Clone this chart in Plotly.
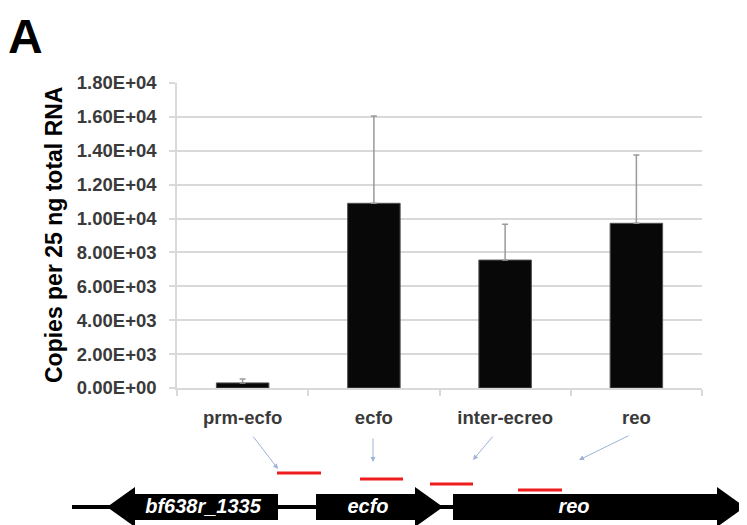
import plotly.graph_objects as go

# ---------------- data ----------------
CATEGORIES = ["prm-ecfo", "ecfo", "inter-ecreo", "reo"]
COPIES = [300, 10900, 7550, 9720]
COPIES_SD = [230, 5150, 2120, 4030]
Y_TICK_VALUES = [0, 2000, 4000, 6000, 8000, 10000, 12000, 14000, 16000, 18000]
Y_TICK_TEXT = ["0.00E+00", "2.00E+03", "4.00E+03", "6.00E+03", "8.00E+03",
               "1.00E+04", "1.20E+04", "1.40E+04", "1.60E+04", "1.80E+04"]
Y_TITLE = "Copies per 25 ng total RNA"
PANEL = "A"

# gene map (map units along the locus)
GENE_NAMES = ["bf638r_1335", "ecfo", "reo"]
GENE_TAIL = [278, 316, 453]
GENE_TIP = [107, 443, 745]
GENE_LABEL_X = [203, 368, 574]
BACKBONE_X = [72, 745]
PRIMER_START = [277, 360, 430, 518]
PRIMER_END = [321, 403, 473, 562]
PRIMER_LEVEL = [473, 479, 484, 490]
POINTER_FROM_X = [252, 373, 494, 630]
POINTER_FROM_Y = [435, 437, 435, 435]
POINTER_TO_X = [278, 373, 473, 579]
POINTER_TO_Y = [469, 462, 460, 460]

# ---------------- style ----------------
OFF = 8                     # page body margin
W, H = 747 - OFF, 525 - OFF
FONT = "Arial, 'Liberation Sans', sans-serif"
GRID = "#d9d9d9"
TICK_COLOR = "#3a3a3a"
GENE_Y = 507
BODY_HALF = 13
HEAD_HALF = 20
HEAD_LEN = 28


def fx(p):
    return (p - OFF) / W


def fy(p):
    return 1 - (p - OFF) / H


fig = go.Figure()

fig.add_trace(go.Bar(
    x=CATEGORIES, y=COPIES,
    marker=dict(color="#080808", line=dict(color="#505050", width=1)),
    error_y=dict(type="data", array=COPIES_SD, symmetric=False,
                 arrayminus=[0] * len(COPIES), color="#9a9a9a",
                 thickness=1.5, width=3),
    xaxis="x", yaxis="y", showlegend=False,
))

# backbone line
fig.add_trace(go.Scatter(
    x=BACKBONE_X, y=[GENE_Y] * len(BACKBONE_X), mode="lines",
    line=dict(color="black", width=4), xaxis="x3", yaxis="y3",
    showlegend=False, hoverinfo="skip",
))

# genes as arrow polygons
for name, tail, tip in zip(GENE_NAMES, GENE_TAIL, GENE_TIP):
    d = 1 if tip > tail else -1
    base = tip - d * HEAD_LEN
    xs = [tail, base, base, tip, base, base, tail, tail]
    ys = [GENE_Y - BODY_HALF, GENE_Y - BODY_HALF, GENE_Y - HEAD_HALF, GENE_Y,
          GENE_Y + HEAD_HALF, GENE_Y + BODY_HALF, GENE_Y + BODY_HALF,
          GENE_Y - BODY_HALF]
    fig.add_trace(go.Scatter(
        x=xs, y=ys, mode="lines", fill="toself", fillcolor="black",
        line=dict(color="black", width=0), xaxis="x3", yaxis="y3",
        showlegend=False, hoverinfo="skip",
    ))

fig.add_trace(go.Scatter(
    x=GENE_LABEL_X, y=[GENE_Y + 1] * len(GENE_NAMES), mode="text",
    text=[f"<i><b>{n}</b></i>" for n in GENE_NAMES],
    textfont=dict(family=FONT, size=20, color="white"),
    xaxis="x3", yaxis="y3", showlegend=False, hoverinfo="skip",
))

# primers
for s, e, lv in zip(PRIMER_START, PRIMER_END, PRIMER_LEVEL):
    fig.add_trace(go.Scatter(
        x=[s, e], y=[lv, lv], mode="lines",
        line=dict(color="#ee1c1c", width=3), xaxis="x3", yaxis="y3",
        showlegend=False, hoverinfo="skip",
    ))

annotations = []
for ax_, ay_, tx, ty in zip(POINTER_FROM_X, POINTER_FROM_Y, POINTER_TO_X, POINTER_TO_Y):
    annotations.append(dict(
        x=tx, y=ty, ax=ax_, ay=ay_, xref="x3", yref="y3", axref="x3", ayref="y3",
        text="", showarrow=True, arrowhead=2, arrowsize=1, arrowwidth=1,
        arrowcolor="#9db3d6",
    ))

annotations.append(dict(
    x=fx(54), y=fy(235), xref="paper", yref="paper", text=f"<b>{Y_TITLE}</b>",
    textangle=-90, showarrow=False, font=dict(family=FONT, size=23, color="black"),
    xanchor="center", yanchor="middle",
))
annotations.append(dict(
    x=fx(25), y=1, xref="paper", yref="paper", text=f"<b>{PANEL}</b>",
    showarrow=False, font=dict(family=FONT, size=48, color="black"),
    xanchor="center", yanchor="top",
))

fig.update_layout(
    width=W, height=H,
    margin=dict(l=0, r=0, t=0, b=0),
    paper_bgcolor="white", plot_bgcolor="white",
    bargap=0.6,
    xaxis=dict(
        domain=[fx(177), fx(702)], anchor="y", type="category",
        showline=True, linecolor=GRID, linewidth=1.5,
        ticks="outside", tickson="boundaries", ticklen=6, tickcolor=GRID,
        tickwidth=1.5, showgrid=False, automargin=False,
        tickfont=dict(family=FONT, size=18.5, color=TICK_COLOR, weight="bold"),
        ticklabelstandoff=12,
    ),
    yaxis=dict(
        domain=[fy(388), fy(83)], anchor="x", range=[0, 18000],
        tickvals=Y_TICK_VALUES, ticktext=Y_TICK_TEXT,
        showline=True, linecolor=GRID, linewidth=1.5,
        ticks="outside", ticklen=6, tickcolor=GRID, tickwidth=1.5,
        showgrid=True, gridcolor=GRID, gridwidth=1.5, zeroline=False,
        automargin=False,
        tickfont=dict(family=FONT, size=18.5, color=TICK_COLOR, weight="bold"),
        ticklabelstandoff=9,
    ),
    xaxis3=dict(domain=[0, 1], anchor="y3", range=[OFF, 747], visible=False),
    yaxis3=dict(domain=[0, fy(425)], anchor="x3", range=[525, 425], visible=False),
    annotations=annotations,
)

fig.write_html("out.html")
